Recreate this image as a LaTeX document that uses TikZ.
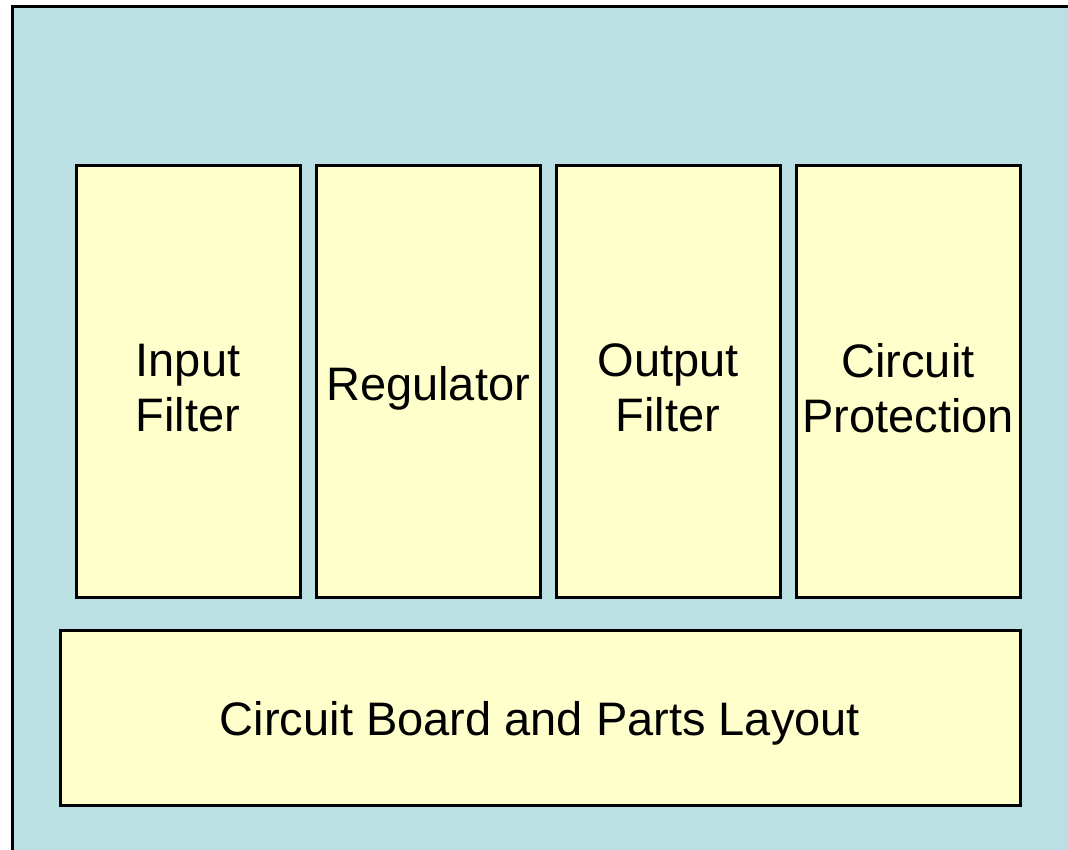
\documentclass[tikz,border=0pt]{standalone}
\usepackage{fontspec}
\setmainfont{Liberation Sans}
\definecolor{bgblue}{RGB}{186,224,228}
\definecolor{boxyellow}{RGB}{255,255,204}
\begin{document}
\begin{tikzpicture}[x=1pt,y=-1pt,
  blockbox/.style={draw=black,line width=3pt,fill=boxyellow,inner sep=0pt},
  tallbox/.style={blockbox,minimum width=224pt,minimum height=432pt},
  blocktext/.style={inner sep=0pt,align=center,font=\fontsize{47}{55}\selectfont}]
\useasboundingbox (0,0) rectangle (1068,849);
\fill[white] (0,0) rectangle (1068,849);
\draw[line width=3pt,fill=bgblue] (12,6) rectangle (1080,870);
\node[tallbox] (inp) at (188,381.5) {};
\node[tallbox] (reg) at (428,381.5) {};
\node[tallbox] (out) at (668,381.5) {};
\node[tallbox] (prot) at (908,381.5) {};
\node[blockbox,minimum width=960pt,minimum height=175pt] (board) at (540,717.5) {};
\node[blocktext] (tinp) at (188,388) {Input\\Filter};
\node[blocktext] (treg) at (428,388) {Regulator};
\node[blocktext] (tout) at (668,388) {Output\\Filter};
\node[blocktext] (tprot) at (908,388) {Circuit\\Protection};
\node[blocktext] (tboard) at (540,723) {Circuit Board and Parts Layout};
\end{tikzpicture}
\end{document}
